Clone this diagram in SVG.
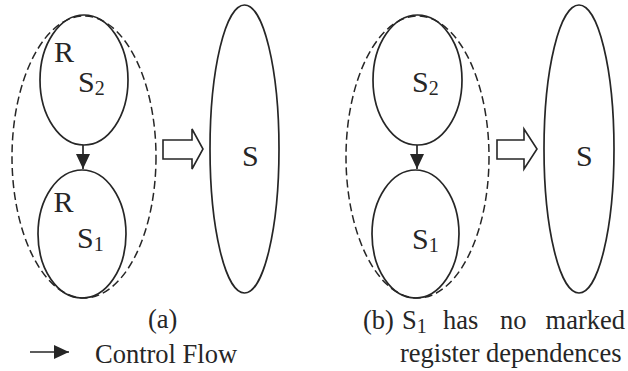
<svg xmlns="http://www.w3.org/2000/svg" width="628" height="371" viewBox="0 0 628 371">
<defs>
<style>
.node{fill:none;stroke:#262626;stroke-width:1.7}
.dash{fill:none;stroke:#262626;stroke-width:1.5;stroke-dasharray:8 4}
.hollow{fill:#fff;stroke:#262626;stroke-width:1.6;stroke-linejoin:miter}
.lbl{font-family:"Liberation Serif","Times New Roman",Times,serif;font-size:30px;fill:#262626}
.sub{font-size:20px}
.cap{font-family:"Liberation Serif","Times New Roman",Times,serif;font-size:26.5px;fill:#262626}
.edge{stroke:#262626;stroke-width:1.7;fill:none}
</style>
<marker id="ah" markerWidth="16" markerHeight="16" refX="15" refY="7.5" orient="auto" markerUnits="userSpaceOnUse">
<path d="M0,0.5 L15,7.5 L0,14.5 Z" fill="#262626"/>
</marker>
</defs>
<rect width="628" height="371" fill="#fff"/>

<!-- Panel (a) -->
<g id="a-group">
<ellipse class="dash" cx="84" cy="157" rx="72" ry="141"/>
</g>
<g id="a-S2">
<ellipse class="node" cx="84" cy="80" rx="44" ry="65"/>
<text class="lbl" x="54" y="62">R</text>
<text class="lbl" x="78" y="92">S<tspan class="sub" dy="3">2</tspan></text>
</g>
<g id="a-S1">
<ellipse class="node" cx="82" cy="234" rx="44" ry="64"/>
<text class="lbl" x="53.5" y="212">R</text>
<text class="lbl" x="77" y="248">S<tspan class="sub" dy="3">1</tspan></text>
</g>
<g id="a-arrow">
<path class="hollow" d="M163,140 L192,140 L192,129 L203,149 L192,169 L192,159 L163,159 Z"/>
</g>
<g id="a-S">
<ellipse class="node" cx="244.5" cy="149" rx="34.5" ry="144"/>
<text class="lbl" x="242" y="166">S</text>
</g>

<!-- Panel (b) -->
<g id="b-group">
<ellipse class="dash" cx="417.5" cy="157" rx="71.5" ry="141"/>
</g>
<g id="b-S2">
<ellipse class="node" cx="417.5" cy="80" rx="44.5" ry="65"/>
<text class="lbl" x="412" y="92">S<tspan class="sub" dy="3">2</tspan></text>
</g>
<g id="b-S1">
<ellipse class="node" cx="415.5" cy="234" rx="43.5" ry="64"/>
<text class="lbl" x="412" y="249">S<tspan class="sub" dy="3">1</tspan></text>
</g>
<g id="b-arrow">
<path class="hollow" d="M497,140 L524,140 L524,129 L537,149 L524,169 L524,159 L497,159 Z"/>
</g>
<g id="b-S">
<ellipse class="node" cx="579" cy="149" rx="35" ry="144"/>
<text class="lbl" x="576" y="166">S</text>
</g>

<!-- Connectors -->
<g id="connectors">
<line class="edge" x1="83" y1="145" x2="83" y2="169" marker-end="url(#ah)"/>
<line class="edge" x1="417" y1="145" x2="417" y2="169" marker-end="url(#ah)"/>
</g>

<!-- Captions -->
<g id="captions">
<text class="cap" x="148" y="328">(a)</text>
<text class="cap" x="363" y="329">(b)</text>
<text class="cap" x="402" y="329">S<tspan class="sub" dy="4" font-size="18">1</tspan></text>
<text class="cap" x="443" y="329">has</text>
<text class="cap" x="500" y="329">no</text>
<text class="cap" x="625" y="329" text-anchor="end">marked</text>
<text class="cap" x="400" y="362">register dependences</text>
</g>

<!-- Legend -->
<g id="legend">
<line class="edge" x1="30" y1="352" x2="69" y2="352" marker-end="url(#ah)"/>
<text class="cap" x="95" y="363">Control Flow</text>
</g>
</svg>
